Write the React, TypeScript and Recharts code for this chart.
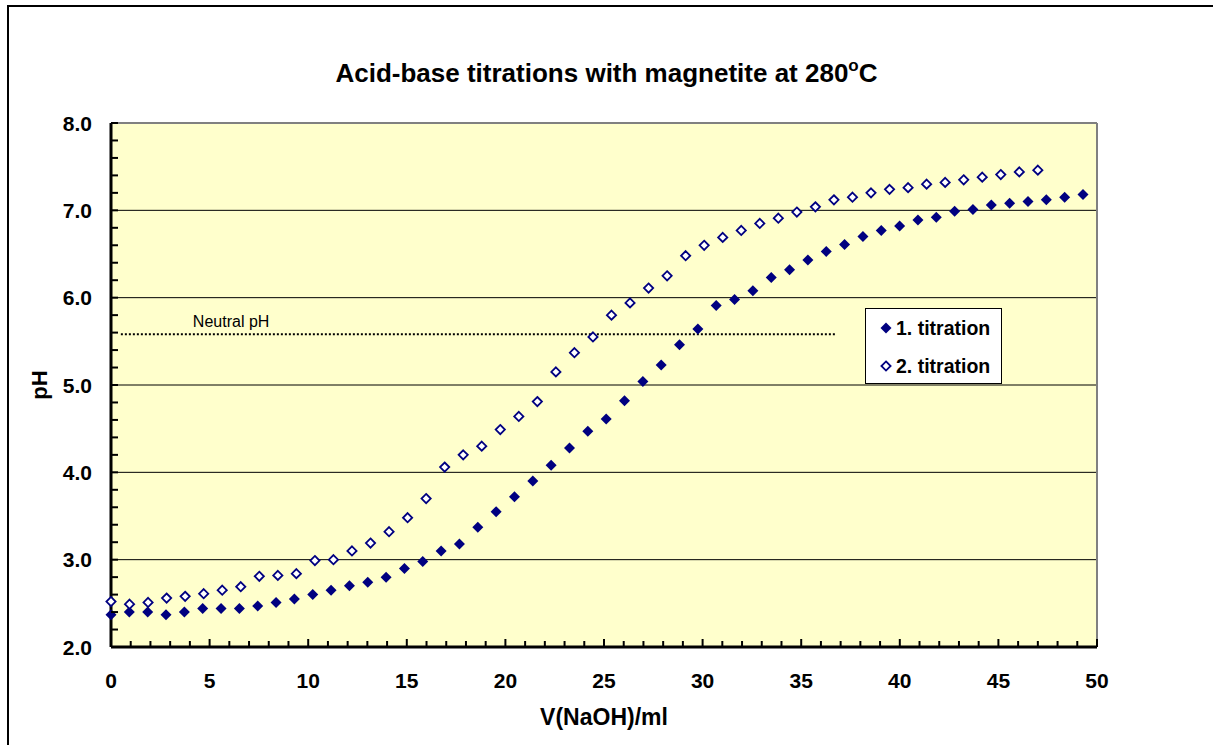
import React from 'react';
import {
  ScatterChart,
  Scatter,
  XAxis,
  YAxis,
  CartesianGrid,
  ReferenceLine,
  Legend,
  Label,
} from 'recharts';

const FONT = '"Liberation Sans", Arial, Helvetica, sans-serif';
const NAVY = '#000080';
const PLOT_BG = '#FFFFCC';

// First titration: added NaOH volume (ml) and measured pH
const volume1 = [
  0, 0.93, 1.86, 2.79, 3.72, 4.65, 5.58, 6.51, 7.44, 8.37, 9.3, 10.23, 11.16, 12.09,
  13.02, 13.95, 14.88, 15.81, 16.74, 17.67, 18.6, 19.53, 20.46, 21.39, 22.32, 23.25,
  24.18, 25.11, 26.04, 26.97, 27.9, 28.83, 29.76, 30.69, 31.62, 32.55, 33.48, 34.41,
  35.34, 36.27, 37.2, 38.13, 39.06, 39.99, 40.92, 41.85, 42.78, 43.71, 44.64, 45.57,
  46.5, 47.43, 48.36, 49.29,
];
const ph1 = [
  2.37, 2.4, 2.4, 2.37, 2.4, 2.44, 2.44, 2.44, 2.47, 2.51, 2.55, 2.6, 2.65, 2.7,
  2.74, 2.8, 2.9, 2.98, 3.1, 3.18, 3.37, 3.55, 3.72, 3.9, 4.08, 4.28, 4.47, 4.61,
  4.82, 5.04, 5.23, 5.46, 5.64, 5.91, 5.98, 6.08, 6.23, 6.32, 6.43, 6.53, 6.61, 6.7,
  6.77, 6.82, 6.89, 6.92, 6.99, 7.01, 7.06, 7.08, 7.1, 7.12, 7.15, 7.18,
];

// Second titration
const volume2 = [
  0, 0.94, 1.88, 2.82, 3.76, 4.7, 5.64, 6.58, 7.52, 8.46, 9.4, 10.34, 11.28, 12.22,
  13.16, 14.1, 15.04, 15.98, 16.92, 17.86, 18.8, 19.74, 20.68, 21.62, 22.56, 23.5,
  24.44, 25.38, 26.32, 27.26, 28.2, 29.14, 30.08, 31.02, 31.96, 32.9, 33.84, 34.78,
  35.72, 36.66, 37.6, 38.54, 39.48, 40.42, 41.36, 42.3, 43.24, 44.18, 45.12, 46.06,
  47.0,
];
const ph2 = [
  2.52, 2.49, 2.51, 2.56, 2.58, 2.61, 2.65, 2.69, 2.81, 2.82, 2.84, 2.99, 3.0, 3.1,
  3.19, 3.32, 3.48, 3.7, 4.06, 4.2, 4.3, 4.49, 4.64, 4.81, 5.15, 5.37, 5.55, 5.8,
  5.94, 6.11, 6.25, 6.48, 6.6, 6.69, 6.77, 6.85, 6.91, 6.98, 7.04, 7.12, 7.15, 7.2,
  7.24, 7.26, 7.3, 7.32, 7.35, 7.38, 7.41, 7.44, 7.46,
];

const seriesNames = ['1. titration', '2. titration'];

const xMajorTicks = [0, 5, 10, 15, 20, 25, 30, 35, 40, 45, 50];
const yMajorTicks = [2, 3, 4, 5, 6, 7, 8];
const gridValues = [3, 4, 5, 6, 7];

const neutralPH = 5.58;
const neutralFrom = 0.5;
const neutralTo = 36.8;
const neutralLabel = 'Neutral pH';

const titleText = 'Acid-base titrations with magnetite at 280';
const xTitle = 'V(NaOH)/ml';
const yTitle = 'pH';

// Minor tick positions: every 1 ml on x, every 0.2 on pH
const xTicks = Array.from({ length: 51 }, (_, i) => i);
const yTicks = Array.from({ length: 31 }, (_, i) => Math.round((2 + i * 0.2) * 10) / 10);

const titration1 = volume1.map((v, i) => ({ v, ph: ph1[i] }));
const titration2 = volume2.map((v, i) => ({ v, ph: ph2[i] }));

const diamondPath = (cx: number, cy: number, r: number) =>
  `M${cx},${cy - r}L${cx + r},${cy}L${cx},${cy + r}L${cx - r},${cy}Z`;

const FilledDiamond = (props: any) => {
  const { cx, cy } = props;
  if (cx == null || cy == null) return null;
  return <path d={diamondPath(cx, cy, 5.5)} fill={NAVY} />;
};

const OpenDiamond = (props: any) => {
  const { cx, cy } = props;
  if (cx == null || cy == null) return null;
  return <path d={diamondPath(cx, cy, 4.6)} fill="#FFFFFF" stroke={NAVY} strokeWidth={1.8} />;
};

const isWhole = (v: number) => Math.abs(v - Math.round(v)) < 1e-6;

// Inside ticks on the volume axis; labels only at multiples of 5
const XTick = (props: any) => {
  const { x, y, payload } = props;
  const v = payload.value as number;
  const major = xMajorTicks.includes(v);
  return (
    <g>
      <line x1={x} x2={x} y1={y} y2={y - (major ? 8 : 6)} stroke="#000" strokeWidth={2} />
      {major && (
        <text
          x={x}
          y={y + 41}
          textAnchor="middle"
          fontFamily={FONT}
          fontWeight="bold"
          fontSize={21}
          fill="#000"
        >
          {v}
        </text>
      )}
    </g>
  );
};

// Inside ticks on the pH axis; labels only at whole units
const YTick = (props: any) => {
  const { x, y, payload } = props;
  const v = payload.value as number;
  const major = isWhole(v) && yMajorTicks.includes(Math.round(v));
  return (
    <g>
      <line x1={x} x2={x + 7} y1={y} y2={y} stroke="#000" strokeWidth={2} />
      {major && (
        <text
          x={x - 19}
          y={y}
          dy="0.36em"
          textAnchor="end"
          fontFamily={FONT}
          fontWeight="bold"
          fontSize={21}
          fill="#000"
        >
          {v.toFixed(1)}
        </text>
      )}
    </g>
  );
};

const LegendBox = () => (
  <svg width={137} height={76} style={{ display: 'block' }}>
    <rect x={0.5} y={0.5} width={136} height={75} fill="#FFFFFF" stroke="#000" strokeWidth={1} />
    {seriesNames.map((name, i) => {
      const cy = 20 + i * 38;
      return (
        <g key={name}>
          {i === 0 ? <FilledDiamond cx={21} cy={cy} /> : <OpenDiamond cx={21} cy={cy} />}
          <text
            x={31}
            y={cy}
            dy="0.36em"
            fontFamily={FONT}
            fontWeight="bold"
            fontSize={19.5}
            fill="#000"
          >
            {name}
          </text>
        </g>
      );
    })}
  </svg>
);

export default function App() {
  return (
    <div
      style={{
        position: 'absolute',
        left: 0,
        top: 0,
        width: 1213,
        height: 745,
        overflow: 'hidden',
        background: '#FFFFFF',
        fontFamily: FONT,
      }}
    >
      {/* chart frame */}
      <div
        style={{
          position: 'absolute',
          left: 7,
          top: 5,
          width: 1400,
          height: 900,
          border: '2px solid #000',
          boxSizing: 'border-box',
        }}
      />
      <div
        style={{
          position: 'absolute',
          left: 0,
          top: 58,
          width: 1213,
          textAlign: 'center',
          fontSize: 26,
          lineHeight: '30px',
          fontWeight: 'bold',
          color: '#000',
        }}
      >
        {titleText}
        <span style={{ fontSize: 17, position: 'relative', top: -11 }}>o</span>C
      </div>
      <div style={{ position: 'absolute', left: 0, top: 0 }}>
        <ScatterChart
          width={1213}
          height={745}
          margin={{ top: 123, right: 116, bottom: 38, left: 51 }}
        >
          <CartesianGrid
            fill={PLOT_BG}
            fillOpacity={1}
            vertical={false}
            horizontal
            horizontalValues={gridValues}
            stroke="#000"
            strokeWidth={1}
          />
          <XAxis
            type="number"
            dataKey="v"
            domain={[0, 50]}
            ticks={xTicks}
            interval={0}
            height={60}
            tickSize={0}
            tickMargin={0}
            tickLine={false}
            axisLine={{ stroke: '#000', strokeWidth: 3 }}
            tick={<XTick />}
          >
            <Label
              content={(p: any) => {
                const vb = p.viewBox || {};
                return (
                  <text
                    x={vb.x + vb.width / 2}
                    y={vb.y + 78}
                    textAnchor="middle"
                    fontFamily={FONT}
                    fontWeight="bold"
                    fontSize={23}
                    fill="#000"
                  >
                    {xTitle}
                  </text>
                );
              }}
            />
          </XAxis>
          <YAxis
            type="number"
            dataKey="ph"
            domain={[2, 8]}
            ticks={yTicks}
            interval={0}
            width={60}
            tickSize={0}
            tickMargin={0}
            tickLine={false}
            axisLine={{ stroke: '#000', strokeWidth: 3 }}
            tick={<YTick />}
          >
            <Label
              content={(p: any) => {
                const vb = p.viewBox || {};
                const cx = vb.x - 4;
                const cy = vb.y + vb.height / 2;
                return (
                  <text
                    x={cx}
                    y={cy}
                    transform={`rotate(-90, ${cx}, ${cy})`}
                    textAnchor="middle"
                    fontFamily={FONT}
                    fontWeight="bold"
                    fontSize={22}
                    fill="#000"
                  >
                    {yTitle}
                  </text>
                );
              }}
            />
          </YAxis>
          <ReferenceLine y={8} stroke="#808080" strokeWidth={2} />
          <ReferenceLine x={50} stroke="#808080" strokeWidth={2} />
          <ReferenceLine
            segment={[
              { x: neutralFrom, y: neutralPH },
              { x: neutralTo, y: neutralPH },
            ]}
            stroke="#000"
            strokeWidth={2}
            strokeDasharray="2 2"
          >
            <Label
              content={(p: any) => {
                const vb = p.viewBox || {};
                return (
                  <text
                    x={vb.x + 72}
                    y={vb.y - 7}
                    fontFamily={FONT}
                    fontSize={16}
                    fill="#000"
                  >
                    {neutralLabel}
                  </text>
                );
              }}
            />
          </ReferenceLine>
          <Scatter
            name={seriesNames[0]}
            data={titration1}
            shape={<FilledDiamond />}
            isAnimationActive={false}
          />
          <Scatter
            name={seriesNames[1]}
            data={titration2}
            shape={<OpenDiamond />}
            isAnimationActive={false}
          />
          <Legend
            layout="vertical"
            align="center"
            verticalAlign="middle"
            wrapperStyle={{ left: 865, top: 308, width: 137, height: 76 }}
            content={() => <LegendBox />}
          />
        </ScatterChart>
      </div>
    </div>
  );
}
